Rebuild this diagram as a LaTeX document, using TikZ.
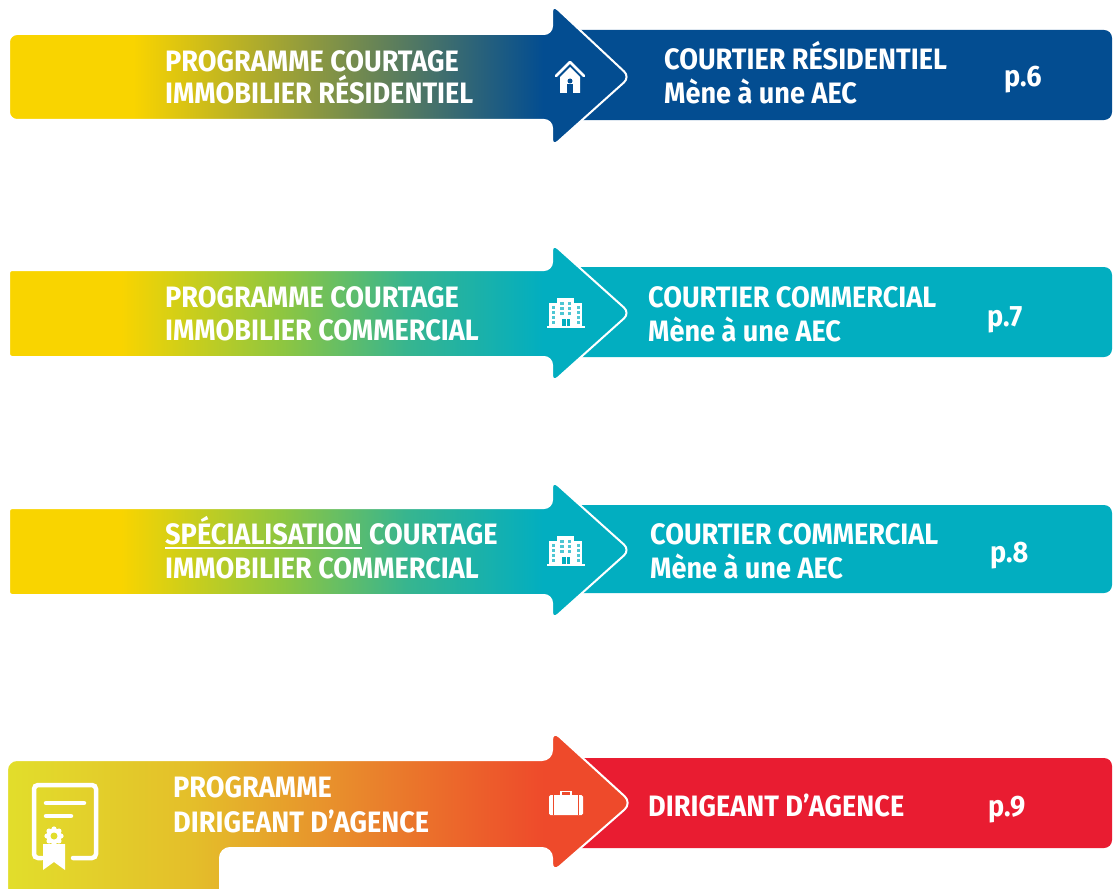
\documentclass[tikz,border=0pt]{standalone}
\usepackage{fontspec}
\setmainfont{Fira Sans}[FakeStretch=0.92]
\usetikzlibrary{shapes,backgrounds,calc}

\definecolor{jaune}{HTML}{F9D400}
\definecolor{bleufonce}{HTML}{034D91}
\definecolor{turquoise}{HTML}{02AEC0}
\definecolor{vertgrad}{HTML}{8EC640}
\definecolor{vertbleu}{HTML}{37B58F}
\definecolor{rouge}{HTML}{E91C31}
\definecolor{jaunevert}{HTML}{E2DE2B}
\definecolor{jauneor}{HTML}{E4BE2A}
\definecolor{orangegrad}{HTML}{E8902C}
\definecolor{orangerouge}{HTML}{EC622B}
\definecolor{rougeorange}{HTML}{EE4A2B}

\pgfdeclarehorizontalshading{degbleu}{100bp}{color(0bp)=(jaune); color(35bp)=(jaune); color(68bp)=(bleufonce); color(100bp)=(bleufonce)}
\pgfdeclarehorizontalshading{degturq}{100bp}{color(0bp)=(jaune); color(34bp)=(jaune); color(47bp)=(vertgrad); color(57bp)=(vertbleu); color(68bp)=(turquoise); color(100bp)=(turquoise)}
\pgfdeclarehorizontalshading{degrouge}{100bp}{color(0bp)=(jaunevert); color(25bp)=(jaunevert); color(40bp)=(jauneor); color(51bp)=(orangegrad); color(62bp)=(orangerouge); color(68bp)=(rougeorange); color(100bp)=(rougeorange)}

\tikzset{
	titre/.style={text=white, font=\bfseries\fontsize{29.5}{31}\selectfont, inner sep=0pt, anchor=base west},
	fleche/.style={draw=white, line width=2pt, rounded corners=8pt},
	barre/.style={rounded corners=8pt},
}

\begin{document}
\begin{tikzpicture}[x=1pt,y=-1pt]
	\useasboundingbox (0,0) rectangle (1115,888);
	\fill[white] (0,0) rectangle (1115,888);
	
	\fill[bleufonce, barre] (570,30) rectangle (1112,120);
	\shadedraw[fleche, shading=degbleu] (9,120) -- (9,34) -- (552,34) -- (552,4) -- (630,77) -- (552,147) -- (552,120) -- cycle;
	\draw[white, line width=2.5pt, line cap=round, line join=round] (556,76) -- (570,62) -- (584,76);
	\fill[white] (560,77) -- (570,67) -- (580,77) -- (580,93) -- (560,93) -- cycle;
	\fill[bleufonce] (570,81) circle (2.5);
	\fill[bleufonce] (567,84) rectangle (573,93);
	\node[titre] (prog1a) at (165,72) {PROGRAMME COURTAGE};
	\node[titre] (prog1b) at (165,104) {IMMOBILIER RÉSIDENTIEL};
	\node[titre] (dest1a) at (664,70) {COURTIER RÉSIDENTIEL};
	\node[titre] (dest1b) at (664,104) {Mène à une AEC};
	\node[titre] (page1) at (1004,87) {p.6};
	
	\fill[turquoise, barre] (570,267) rectangle (1112,357);
	\shadedraw[fleche, shading=degturq] (300,357) [rounded corners=3pt] -- (9,357) -- (9,270) -- (300,270) [rounded corners=8pt] -- (552,270) -- (552,243) -- (630,313) -- (552,383) -- (552,357) -- cycle;
	\node[titre] (prog2a) at (165,307) {PROGRAMME COURTAGE};
	\node[titre] (prog2b) at (165,340) {IMMOBILIER COMMERCIAL};
	\node[titre] (dest2a) at (648,307) {COURTIER COMMERCIAL};
	\node[titre] (dest2b) at (648,341) {Mène à une AEC};
	\node[titre] (page2) at (987,326) {p.7};
	
	\fill[turquoise, barre] (570,505) rectangle (1112,593);
	\shadedraw[fleche, shading=degturq] (300,595) [rounded corners=3pt] -- (9,595) -- (9,508) -- (300,508) [rounded corners=8pt] -- (552,508) -- (552,480) -- (630,550) -- (552,620) -- (552,595) -- cycle;
	\node[titre] (prog3a) at (165,544) {SPÉCIALISATION};
	\node[titre] (prog3b) at ([xshift=7pt]prog3a.base east) {COURTAGE};
	\draw[white, line width=2pt] ([yshift=-4pt]prog3a.base west) -- ([yshift=-4pt]prog3a.base east);
	\node[titre] (prog3c) at (165,578) {IMMOBILIER COMMERCIAL};
	\node[titre] (dest3a) at (650,544) {COURTIER COMMERCIAL};
	\node[titre] (dest3b) at (650,578) {Mène à une AEC};
	\node[titre] (page3) at (990,562) {p.8};
	
	\foreach \yc in {314,552} {
		\fill[white] (549,\yc-11) rectangle (582,\yc+13);
		\fill[white] (557,\yc-16) rectangle (574,\yc+13);
		\draw[white, line width=1.5pt] (547,\yc+13) -- (585,\yc+13);
		\foreach \wy in {-8,-3,2,7} {
			\fill[turquoise!70] (551.5,\yc+\wy) rectangle (554.5,\yc+\wy+2.5);
			\fill[turquoise!70] (576.5,\yc+\wy) rectangle (579.5,\yc+\wy+2.5);
		}
		\foreach \wy in {-12,-7,-2} {
			\fill[turquoise!70] (560,\yc+\wy) rectangle (563.5,\yc+\wy+3);
			\fill[turquoise!70] (567.5,\yc+\wy) rectangle (571,\yc+\wy+3);
		}
		\fill[turquoise] (562,\yc+5) rectangle (570,\yc+12);
		\draw[white, line width=1pt] (566,\yc+5) -- (566,\yc+12);
	}
	
	\fill[rouge, barre] (570,758) rectangle (1112,848);
	\shadedraw[fleche, rounded corners=10pt, shading=degrouge] (7,900) -- (7,760) -- (552,760) -- (552,730) -- (632,803) -- (552,873) -- (552,848) -- (220,848) -- (220,900) -- cycle;
	\draw[white, line width=1.5pt] (561,796) -- (561,791.5) -- (571,791.5) -- (571,796);
	\fill[white, rounded corners=1.5pt] (549,795) rectangle (583,815);
	\draw[rougeorange, line width=1pt] (553.5,795) -- (553.5,815) (578.5,795) -- (578.5,815);
	\draw[white, line width=4.5pt, rounded corners=4pt, line cap=round] (42,858) -- (34,858) -- (34,785) -- (96,785) -- (96,858) -- (73,858);
	\draw[white, line width=4.5pt, line cap=round] (46,803) -- (84,803) (46,816) -- (71,816);
	\fill[white] (43,844) -- (65,844) -- (65,870) -- (54,862) -- (43,870) -- cycle;
	\foreach \a in {0,45,...,315}
		\fill[white] (54,836) ++(\a:7) circle (2.6);
	\fill[white] (54,836) circle (7.5);
	\fill[jaunevert] (54,836) circle (3.5);
	\node[titre] (prog4a) at (173,797) {PROGRAMME};
	\node[titre] (prog4b) at (173,832) {DIRIGEANT D’AGENCE};
	\node[titre] (dest4) at (648,816) {DIRIGEANT D’AGENCE};
	\node[titre] (page4) at (988,816) {p.9};
\end{tikzpicture}
\end{document}
